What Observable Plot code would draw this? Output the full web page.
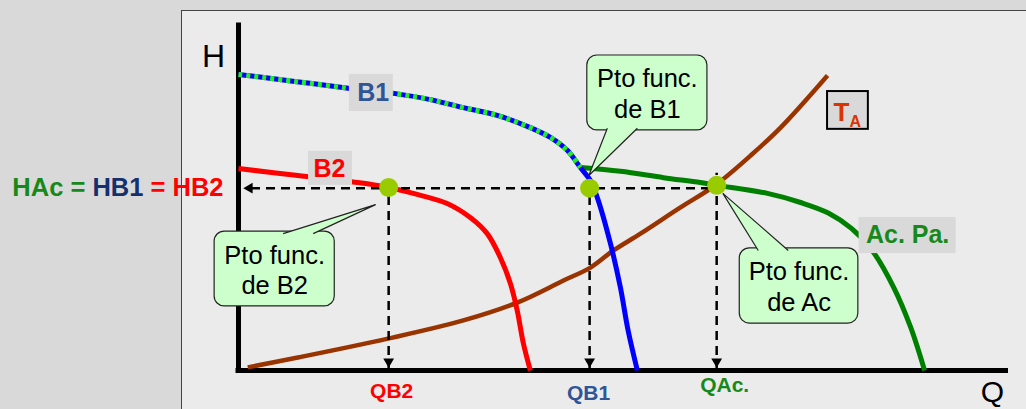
<!DOCTYPE html>
<html><head><meta charset="utf-8">
<script src="https://cdn.jsdelivr.net/npm/d3@7"></script>
<script src="https://cdn.jsdelivr.net/npm/@observablehq/plot@0.6"></script>
<style>
html,body{margin:0;padding:0;background:#d9d9d9;width:1026px;height:409px;overflow:hidden;}
#panel{position:absolute;left:181px;top:10px;width:900px;height:450px;background:#ebebeb;border:1px solid #444;}
#chart{position:absolute;left:0;top:0;}
</style></head><body><div id="panel"></div><div id="chart"></div>
<script>
// ---- data (Q and H in relative units, 0..100) ----
const b1Q = [0, 7.3, 14.5, 20.4, 24.9, 29.2, 33.6, 37.9, 40.5, 42.7, 44.4, 45.7, 46.6, 48.3, 49.6, 50.6, 51.8];
const b1H = [84.6, 82.6, 80.6, 79.1, 77.4, 75.1, 72.9, 69.4, 66.6, 62.9, 58.0, 54.3, 49.4, 36.3, 23.7, 11.4, 0];
const b2Q = [0, 7.7, 15.5, 19.5, 22.7, 27.1, 30.1, 32.3, 34.0, 35.3, 36.2, 37.0, 37.9];
const b2H = [57.7, 55.7, 53.7, 52.3, 50.6, 47.7, 43.7, 39.1, 32.3, 24.9, 17.1, 7.7, 0];
const acQ = [44.4, 49.6, 55.2, 60.0, 62.2, 68.7, 73.0, 76.6, 79.6, 82.2, 85.1, 87.3, 89.1];
const acH = [58.0, 56.9, 55.1, 53.7, 52.9, 50.6, 48.0, 45.0, 40.6, 34.6, 23.7, 12.3, 0];
const taQ = [1.2, 7.7, 19.4, 29.2, 36.2, 42.2, 45.7, 48.7, 52.2, 57.4, 61.9, 66.5, 70.4, 76.5];
const taH = [0.9, 3.7, 9.1, 14.3, 19.4, 25.7, 29.4, 34.3, 39.1, 46.6, 52.9, 61.4, 69.4, 84.3];

const opNames = ["QB2", "QB1", "QAc."];
const opQ = [19.5, 45.6, 62.1];
const opH = [52.3, 52.1, 52.9];
const hOp = 52.1;
const hLabel = "HAc = HB1 = HB2";

const curveNames = ["B1", "B2", "Ac. Pa."];
const curveLabelQ = [17.5, 11.8, 86.9];
const curveLabelH = [79.3, 57.6, 38.6];
const curveBoxQ1 = [14.4, 9.1, 80.6];
const curveBoxQ2 = [20.1, 14.8, 93.2];
const curveBoxH1 = [74.0, 52.9, 33.4];
const curveBoxH2 = [84.6, 62.6, 43.7];

const calloutText = ["Pto func.\nde B2", "Pto func.\nde B1", "Pto func.\nde Ac"];
const calloutQ1 = [-3.1, 45.3, 65.1];
const calloutQ2 = [12.5, 60.9, 80.5];
const calloutH1 = [18.3, 68.6, 13.4];
const calloutH2 = [39.7, 90.0, 34.9];
const pointerBaseQ1 = [5.8, 47.9, 67.5];
const pointerBaseQ2 = [9.7, 51.8, 71.4];
const pointerBaseH = [39.1, 69.2, 34.3];
const pointerTipQ = [17.8, 45.5, 62.9];
const pointerTipH = [47.4, 55.7, 50.6];

const taBox = {q1: 76.5, q2: 81.8, h1: 68.9, h2: 79.7};
const taTextQ = [78.3, 80.1];
const taTextH = [73.8, 70.9];

// ---- styles ----
const FONT = "'Liberation Sans', Arial, Helvetica, sans-serif";
const C = {
  b1: "#0000ff", b2: "#ff0000", ac: "#008000", acDash: "#22ee22", ta: "#993300",
  dot: "#99cc00", green: "#16891a", navy: "#14306e", steel: "#2f5597", red: "#ff0000",
  taText: "#dd3300", box: "#d9d9d9", callout: "#ccffcc"
};
const opColors = [C.red, C.steel, C.green];
const opLabelDx = [3, -1, 8];
const opLabelDy = [21, 23, 15];
const curveColors = [C.steel, C.red, C.green];

// ---- tables ----
const pts = (Q, H) => Q.map((q, i) => ({Q: q, H: H[i]}));
const b1 = pts(b1Q, b1H), b2 = pts(b2Q, b2H), ac = pts(acQ, acH), ta = pts(taQ, taH);
const b1Upper = b1.filter(d => d.H >= acH[0]);
const ops = opNames.map((n, i) => ({name: n, Q: opQ[i], H: opH[i], color: opColors[i]}));
const curveLabels = curveNames.map((n, i) => ({name: n, Q: curveLabelQ[i], H: curveLabelH[i], color: curveColors[i],
  q1: curveBoxQ1[i], q2: curveBoxQ2[i], h1: curveBoxH1[i], h2: curveBoxH2[i]}));
const callouts = calloutText.map((t, i) => ({text: t, q1: calloutQ1[i], q2: calloutQ2[i], h1: calloutH1[i], h2: calloutH2[i]}));
const pointers = calloutText.flatMap((t, i) => [
  {id: i, Q: pointerBaseQ1[i], H: pointerBaseH[i]},
  {id: i, Q: pointerTipQ[i], H: pointerTipH[i]},
  {id: i, Q: pointerBaseQ2[i], H: pointerBaseH[i]}
]);

const lineOpts = {x: "Q", y: "H", curve: "catmull-rom", strokeWidth: 5, strokeLinecap: "butt"};

const svg = Plot.plot({
  width: 1026, height: 409,
  marginLeft: 238, marginRight: 18, marginTop: 20, marginBottom: 39,
  x: {domain: [0, 100], axis: null},
  y: {domain: [0, 100], axis: null},
  style: {background: "transparent", overflow: "visible", fontFamily: FONT},
  marks: [
    // axes
    Plot.ruleX([0], {y1: 0, y2: 100, strokeWidth: 5, stroke: "#000", insetBottom: -2.5}),
    Plot.ruleY([0], {x1: 0, x2: 100, strokeWidth: 5, stroke: "#000", insetLeft: -2.5}),
    // curves
    Plot.line(ta, {...lineOpts, stroke: C.ta, strokeWidth: 4.5}),
    Plot.line(b2, {...lineOpts, stroke: C.b2}),
    Plot.line(ac, {...lineOpts, stroke: C.ac}),
    Plot.line(b1, {...lineOpts, stroke: C.b1}),
    Plot.line(b1Upper, {...lineOpts, stroke: C.acDash, strokeDasharray: "4,4"}),
    // curve labels
    Plot.rect(curveLabels, {x1: "q1", x2: "q2", y1: "h1", y2: "h2", fill: C.box}),
    Plot.text(curveLabels, {x: "Q", y: "H", text: "name", fill: "color", fontSize: 25, fontWeight: "bold", fontFamily: FONT}),
    Plot.rect([taBox], {x1: "q1", x2: "q2", y1: "h1", y2: "h2", fill: C.box, stroke: "#000", strokeWidth: 2}),
    Plot.text(["T"], {x: taTextQ[0], y: taTextH[0], text: d => d, fill: C.taText, fontSize: 26, fontWeight: "bold", fontFamily: FONT}),
    Plot.text(["A"], {x: taTextQ[1], y: taTextH[1], text: d => d, fill: C.taText, fontSize: 16, fontWeight: "bold", fontFamily: FONT}),
    // dashed guides
    Plot.ruleY([hOp], {x1: 0, x2: opQ[2], stroke: "#000", strokeWidth: 2.5, strokeDasharray: "9,6", insetLeft: 13}),
    Plot.dot([hOp], {x: 0, y: d => d, dx: 11, symbol: "triangle", r: 4, rotate: -90, fill: "#000", stroke: "none"}),
    Plot.ruleX(ops, {x: "Q", y1: 0, y2: "H", stroke: "#000", strokeWidth: 2.5, strokeDasharray: "9,6", insetBottom: 12}),
    Plot.dot(ops, {x: "Q", y: 0, dy: -9, symbol: "triangle", r: 4, rotate: 180, fill: "#000", stroke: "none"}),
    // operating points
    Plot.dot(ops, {x: "Q", y: "H", r: 9.5, fill: C.dot, stroke: "none"}),
    // callouts
    Plot.rect(callouts, {x1: "q1", x2: "q2", y1: "h1", y2: "h2", rx: 10, fill: C.callout, stroke: "#222", strokeWidth: 1.2}),
    Plot.line(pointers, {x: "Q", y: "H", z: "id", curve: "linear", fill: C.callout, stroke: "#222", strokeWidth: 1.2, strokeLinecap: "butt", strokeLinejoin: "miter"}),
    Plot.text(callouts, {x: d => (d.q1 + d.q2) / 2, y: d => (d.h1 + d.h2) / 2, text: "text", fill: "#000", fontSize: 25.5, lineHeight: 1.2, fontFamily: FONT}),
    // axis titles & labels
    Plot.text(["H"], {x: 0, y: 100, text: d => d, dx: -25, dy: 36, fontSize: 32, fill: "#000", fontFamily: FONT}),
    Plot.text(["Q"], {x: 100, y: 0, text: d => d, dx: -16, dy: 22, fontSize: 30, fill: "#000", fontFamily: FONT}),
    Plot.text([hLabel], {x: 0, y: hOp, text: d => d, dx: -15, textAnchor: "end", fontSize: 25.5, fontWeight: "bold", fill: C.green, fontFamily: FONT}),
    ...ops.map((d, i) => Plot.text([d], {x: "Q", y: 0, text: "name", fill: "color", dx: opLabelDx[i], dy: opLabelDy[i],
      fontSize: 21, fontWeight: "bold", fontFamily: FONT}))
  ]
});

// colour the parts of the head equality label
svg.querySelectorAll("text").forEach(t => {
  if (t.textContent === hLabel) {
    t.textContent = "";
    [["HAc = ", C.green], ["HB1", C.navy], [" = HB2", C.red]].forEach(([s, col]) => {
      const ts = document.createElementNS("http://www.w3.org/2000/svg", "tspan");
      ts.setAttribute("fill", col);
      ts.textContent = s;
      t.appendChild(ts);
    });
  }
});

document.getElementById("chart").appendChild(svg);
</script></body></html>
